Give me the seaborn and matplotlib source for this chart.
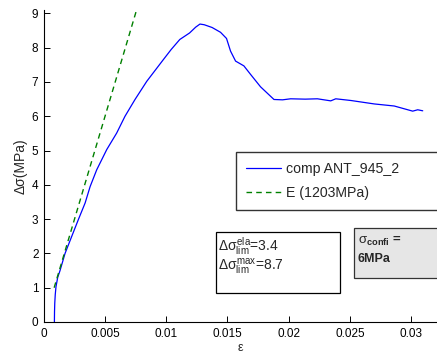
import pandas as pd
import matplotlib
matplotlib.use("Agg")
import matplotlib.pyplot as plt
from matplotlib.patches import Rectangle
import seaborn as sns

# measured curve (strain, stress in MPa)
strain = [0.00085, 0.00086, 0.00088, 0.00092, 0.00098, 0.00112, 0.00131, 0.00172,
          0.00227, 0.0028, 0.00336, 0.00377, 0.00431, 0.00513, 0.00594, 0.00662,
          0.00744, 0.0084, 0.00975, 0.0104, 0.0111, 0.0119, 0.0124, 0.01275, 0.0131,
          0.01374, 0.01443, 0.01492, 0.01525, 0.01566, 0.01634, 0.01689, 0.0177,
          0.0188, 0.0195, 0.02016, 0.02135, 0.02235, 0.02344, 0.02385, 0.0251,
          0.027, 0.02863, 0.03014, 0.03055, 0.03096]
stress = [0, 0.3, 0.55, 0.8, 1.03, 1.3, 1.5, 2.0, 2.5, 2.98, 3.47, 3.95, 4.44,
          5.03, 5.51, 6.0, 6.49, 7.02, 7.65, 7.95, 8.24, 8.43, 8.6, 8.69, 8.67,
          8.59, 8.45, 8.27, 7.90, 7.61, 7.47, 7.22, 6.86, 6.49, 6.48, 6.51, 6.50,
          6.51, 6.45, 6.51, 6.46, 6.36, 6.30, 6.15, 6.19, 6.16]

# elastic modulus line E = 1203 MPa
e_strain = [0.00083, 0.0076]
e_stress = [1.0, 9.14]

curve_label = "comp ANT_945_2"
e_label = "E (1203MPa)"
x_ticks = [0, 0.005, 0.01, 0.015, 0.02, 0.025, 0.03]
x_tick_labels = ["0", "0.005", "0.01", "0.015", "0.02", "0.025", "0.03"]
y_ticks = [0, 1, 2, 3, 4, 5, 6, 7, 8, 9]
sigma_ela = 3.4
sigma_max = 8.7
sigma_confi = "6MPa"

sns.set_theme(style="white")
plt.rcParams["font.family"] = ["Liberation Sans", "DejaVu Sans"]
plt.rcParams["mathtext.fontset"] = "custom"
plt.rcParams["mathtext.rm"] = "Liberation Sans"
plt.rcParams["mathtext.it"] = "Liberation Sans"
plt.rcParams["mathtext.bf"] = "Liberation Sans:bold"

W, H = 437, 354
fig = plt.figure(figsize=(W / 100, H / 100), dpi=100)
ax = fig.add_axes([44 / W, 1 - 322 / H, (W - 44) / W, 312 / H])

df = pd.DataFrame({"strain": strain, "stress": stress})
de = pd.DataFrame({"strain": e_strain, "stress": e_stress})
sns.lineplot(data=df, x="strain", y="stress", ax=ax, color="#0000ff", lw=0.9,
             sort=False, estimator=None, label=curve_label)
sns.lineplot(data=de, x="strain", y="stress", ax=ax, color="#008000", lw=1.0,
             linestyle=(0, (4, 3)), sort=False, estimator=None, label=e_label)

ax.set_xlim(0, (W - 44) / 12233)
ax.set_ylim(0, 9.1)
ax.set_xticks(x_ticks)
ax.set_xticklabels(x_tick_labels)
ax.set_yticks(y_ticks)
ax.tick_params(direction="in", length=4, width=0.7, labelsize=8.5, colors="black",
               pad=4, bottom=True, left=True)
for s in ["top", "right"]:
    ax.spines[s].set_visible(False)
for s in ["bottom", "left"]:
    ax.spines[s].set_color("black")
    ax.spines[s].set_linewidth(0.8)
ax.set_xlabel("ε", fontsize=9, labelpad=2)
ax.set_ylabel("Δσ(MPa)", fontsize=10, labelpad=3)

leg = ax.legend(loc="upper left", mode="expand",
                bbox_to_anchor=(236 / W, 1 - 208 / H, (W - 236 + 10) / W, 56 / H),
                bbox_transform=fig.transFigure, fontsize=10.2, frameon=True,
                fancybox=False, handlelength=2.5, handletextpad=0.3,
                labelspacing=0.7, borderpad=0.7, borderaxespad=0)
leg.get_frame().set_edgecolor("black")
leg.get_frame().set_linewidth(1.0)

# annotation boxes
fig.patches.append(Rectangle((216 / W, 1 - 293 / H), 124 / W, 61 / H,
                             transform=fig.transFigure, facecolor="white",
                             edgecolor="black", lw=0.9, zorder=5))
fig.text(218 / W, 1 - 246 / H,
         r"$\Delta\sigma^{ela}_{lim}$=" + f"{sigma_ela}", fontsize=10,
         va="center", ha="left", zorder=6)
fig.text(218 / W, 1 - 267 / H,
         r"$\Delta\sigma^{max}_{lim}$=" + f"{sigma_max}", fontsize=10,
         va="center", ha="left", zorder=6)

fig.patches.append(Rectangle((354 / W, 1 - 278 / H), 100 / W, 50 / H,
                             transform=fig.transFigure, facecolor="#e6e6e6",
                             edgecolor="#333333", lw=0.9, zorder=5))
fig.text(358 / W, 1 - 241 / H, r"$\sigma_{\bf confi}$ =", fontsize=9.5,
         fontweight="bold", va="center", ha="left", zorder=6)
fig.text(358 / W, 1 - 259 / H, sigma_confi, fontsize=9,
         fontweight="bold", va="center", ha="left", zorder=6)

fig.savefig("out.png", dpi=100)
